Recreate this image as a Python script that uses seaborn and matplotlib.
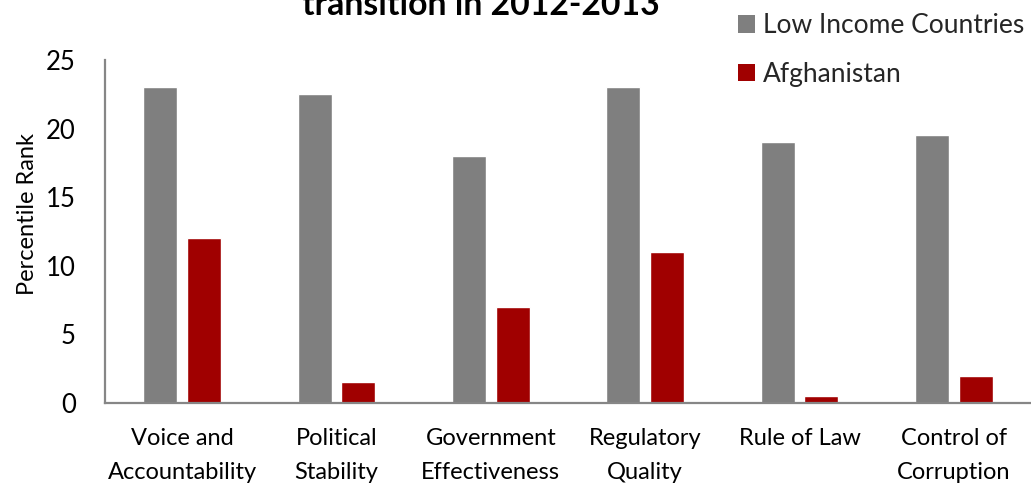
import matplotlib
matplotlib.use("Agg")
import matplotlib.pyplot as plt
from matplotlib.patches import Patch
import pandas as pd
import seaborn as sns

categories = [
    "Voice and\nAccountability",
    "Political\nStability",
    "Government\nEffectiveness",
    "Regulatory\nQuality",
    "Rule of Law",
    "Control of\nCorruption",
]
low_income = [23.0, 22.5, 18.0, 23.0, 19.0, 19.5]
afghanistan = [12.0, 1.5, 7.0, 11.0, 0.5, 2.0]
series_names = ["Low Income Countries", "Afghanistan"]
series_colors = ["#7f7f7f", "#a00000"]
y_ticks = [0, 5, 10, 15, 20, 25]

df = pd.DataFrame({
    "indicator": categories * 2,
    "rank": low_income + afghanistan,
    "group": [series_names[0]] * len(categories) + [series_names[1]] * len(categories),
})

sns.set_theme(style="white")
plt.rcParams["font.family"] = ["Lato", "DejaVu Sans"]

fig = plt.figure(figsize=(10.31, 4.83), dpi=100)
ax = fig.add_axes([105 / 1031, 1 - 403 / 483, 926 / 1031, 343 / 483])

sns.barplot(
    data=df, x="indicator", y="rank", hue="group",
    palette=series_colors, width=0.57, gap=0.227,
    saturation=1, ax=ax, legend=False, errorbar=None,
)

ax.set_ylim(0, 25)
ax.set_xlim(-0.5, len(categories) - 0.5)
ax.set_yticks(y_ticks)
ax.set_xlabel("")
ax.set_ylabel("Percentile Rank", fontsize=17, color="#000000")
ax.yaxis.label.set(ha="center", va="center")
ax.yaxis.set_label_coords((28 - 105) / 926, (403 - 214) / 343)

ax.tick_params(axis="y", length=0, pad=21, labelsize=18.5, labelcolor="#000000")
ax.tick_params(axis="x", length=0, pad=18, labelsize=17, labelcolor="#000000")
for lbl in ax.get_xticklabels():
    lbl.set_linespacing(1.75)

for side in ["top", "right"]:
    ax.spines[side].set_visible(False)
for side in ["left", "bottom"]:
    ax.spines[side].set_color("#868686")
    ax.spines[side].set_linewidth(1.6)

fig.text(481 / 1031, 1 - 15 / 483, "transition in 2012-2013",
         ha="center", va="baseline", fontsize=24.3, fontweight="bold", color="#000000")

handles = [Patch(facecolor=c, edgecolor="none") for c in series_colors]
fig.legend(
    handles, series_names, loc="upper left",
    bbox_to_anchor=(720 / 1031, 1 + 5 / 483), frameon=False,
    fontsize=19, handlelength=0.64, handleheight=0.64,
    handletextpad=0.3, labelspacing=0.88, borderpad=0.2,
)

fig.savefig("out.png", dpi=100)
